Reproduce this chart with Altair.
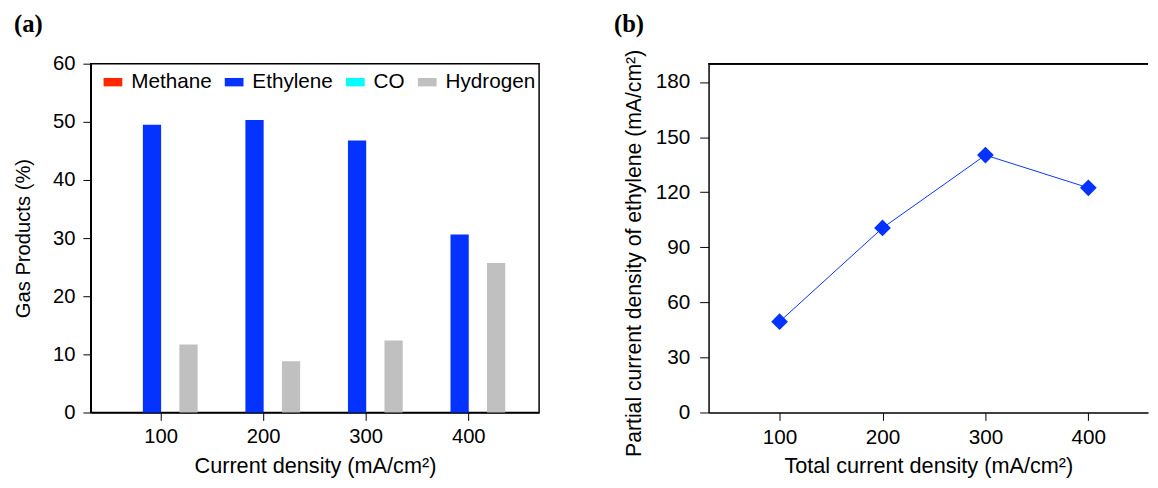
import altair as alt
import pandas as pd

# ---- data ----
densities = [100, 200, 300, 400]
products = ["Methane", "Ethylene", "CO", "Hydrogen"]
methane = [0, 0, 0, 0]
ethylene = [49.5, 50.3, 46.8, 30.6]
co = [0, 0, 0, 0]
hydrogen = [11.7, 8.8, 12.4, 25.7]
colors = ["#FF2600", "#0433FF", "#00FDFF", "#C0C0C0"]
partial_ethylene = [49.5, 100.5, 140.2, 122.4]
y_ticks_a = [0, 10, 20, 30, 40, 50, 60]
y_ticks_b = [0, 30, 60, 90, 120, 150, 180]

rows = []
for i, d in enumerate(densities):
    for p, vals in zip(products, [methane, ethylene, co, hydrogen]):
        rows.append({"density": str(d), "product": p, "value": vals[i]})
df_a = pd.DataFrame(rows)
df_b = pd.DataFrame({"density": densities, "partial": partial_ethylene})

FONT = "Liberation Sans"
BLACK = "#000000"

# ---- panel (a) ----
bars = alt.Chart(df_a).mark_bar().encode(
    x=alt.X(
        "density:N",
        sort=None,
        title="Current density (mA/cm²)",
        scale=alt.Scale(paddingInner=0.288, paddingOuter=0.33),
        axis=alt.Axis(
            labelAngle=0, labelFontSize=20.5, titleFontSize=22, labelFont=FONT,
            titleFont=FONT, titleFontWeight="normal", tickSize=8, labelPadding=6,
            titlePadding=9, tickColor=BLACK, domainColor=BLACK, labelColor=BLACK,
            titleColor=BLACK, domainWidth=1.5, tickWidth=1,
        ),
    ),
    xOffset=alt.XOffset(
        "product:N", sort=products,
        scale=alt.Scale(domain=products, paddingInner=0, paddingOuter=0),
    ),
    y=alt.Y(
        "value:Q",
        title="Gas Products (%)",
        scale=alt.Scale(domain=[0, 60], nice=False),
        axis=alt.Axis(
            values=y_ticks_a, grid=False, labelFontSize=20.5, titleFontSize=20.5,
            labelFont=FONT, titleFont=FONT, titleFontWeight="normal", tickSize=8,
            labelPadding=8, titlePadding=19, tickColor=BLACK, domainColor=BLACK,
            labelColor=BLACK, titleColor=BLACK, domainWidth=1.5, tickWidth=1,
        ),
    ),
    color=alt.Color(
        "product:N",
        sort=products,
        scale=alt.Scale(domain=products, range=colors),
        legend=alt.Legend(
            orient="none", legendX=12, legendY=8, direction="horizontal",
            title=None, symbolType="M-1,-0.45H1V0.45H-1Z", symbolSize=361,
            symbolStrokeWidth=0, labelFontSize=21, labelFont=FONT,
            labelColor=BLACK, labelOffset=8, columnPadding=12,
        ),
    ),
).properties(
    width=455,
    height=354,
    title=alt.TitleParams(
        "(a)", anchor="start", frame="bounds", font="Liberation Serif",
        fontSize=25, fontWeight="bold", color=BLACK, offset=17,
    ),
    view=alt.ViewBackground(stroke=BLACK, strokeWidth=1.5),
)

# ---- panel (b) ----
xb = alt.X(
    "density:Q",
    title="Total current density (mA/cm²)",
    scale=alt.Scale(domain=[31, 458], nice=False, zero=False),
    axis=alt.Axis(
        values=densities, grid=False, labelFontSize=21, titleFontSize=22,
        labelFont=FONT, titleFont=FONT, titleFontWeight="normal", tickSize=8,
        labelPadding=6, titlePadding=9, tickColor=BLACK, domainColor=BLACK,
        labelColor=BLACK, titleColor=BLACK, domainWidth=1.5, tickWidth=1,
    ),
)
yb = alt.Y(
    "partial:Q",
    title="Partial current density of ethylene (mA/cm²)",
    scale=alt.Scale(domain=[0, 190], nice=False),
    axis=alt.Axis(
        values=y_ticks_b, grid=False, labelFontSize=21, titleFontSize=21.5,
        labelFont=FONT, titleFont=FONT, titleFontWeight="normal", tickSize=9,
        labelPadding=10, titlePadding=10, titleY=192, tickColor=BLACK,
        domainColor=BLACK, labelColor=BLACK, titleColor=BLACK, domainWidth=1.5,
        tickWidth=1,
    ),
)

line = alt.Chart(df_b).mark_line(color="#0433FF", strokeWidth=1).encode(x=xb, y=yb)
pts = alt.Chart(df_b).mark_point(
    shape="diamond", filled=True, size=289, color="#0433FF", opacity=1
).encode(x=xb, y=yb)
top_edge = alt.Chart(df_b).mark_rule(color=BLACK, strokeWidth=1.5).encode(
    x=alt.datum(31), x2=alt.datum(458), y=alt.datum(190)
)

panel_b = alt.layer(top_edge, line, pts).properties(
    width=446,
    height=354,
    title=alt.TitleParams(
        "(b)", anchor="start", frame="bounds", font="Liberation Serif",
        fontSize=25, fontWeight="bold", color=BLACK, offset=12, dx=-10,
    ),
    view=alt.ViewBackground(stroke="transparent"),
)

chart = alt.hconcat(bars, panel_b, spacing=74).properties(
    padding={"left": 5, "top": 0, "right": 0, "bottom": 0},
).configure(font=FONT)

chart.save("out.html", embed_options={"renderer": "svg", "actions": False})
